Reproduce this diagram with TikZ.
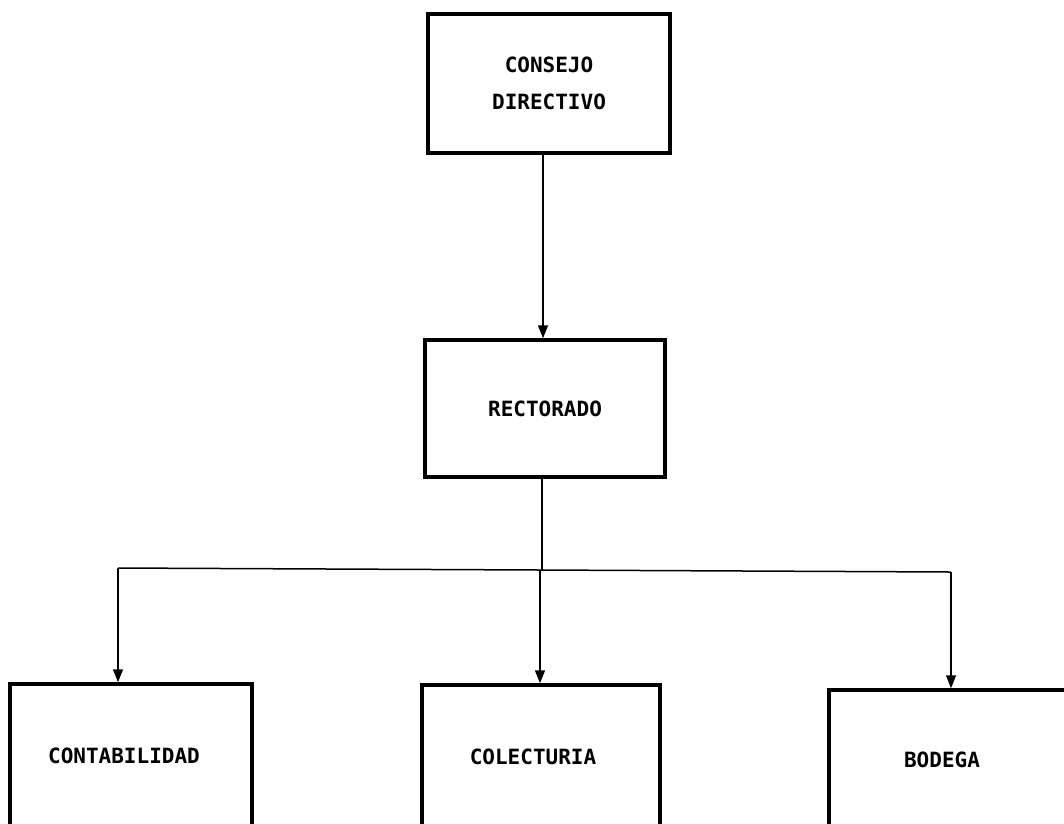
\documentclass[tikz,border=0pt]{standalone}
\usepackage{fontspec}
\newfontfamily\boxfont{DejaVu Sans Mono}
\usetikzlibrary{arrows.meta}
\tikzset{
  unitbox/.style={draw=black, line width=3.5pt, rectangle, inner sep=0pt,
    font=\boxfont\bfseries\fontsize{21}{37}\selectfont, align=center},
  conn/.style={draw=black, line width=1.5pt},
  arr/.style={conn, -{Triangle[length=13pt,width=10pt]}}
}
\begin{document}
\begin{tikzpicture}[x=1pt,y=-1pt]
\useasboundingbox (0,0) rectangle (1064,823);
\clip (0,0) rectangle (1064,823);
\fill[white] (0,0) rectangle (1064,823);
\node[unitbox, minimum width=242pt, minimum height=139pt] (cd) at (549,83.5) {CONSEJO\\DIRECTIVO};
\node[unitbox, minimum width=240pt, minimum height=137pt] (rec) at (545,408.5) {RECTORADO};
\node[unitbox, minimum width=242pt, minimum height=150pt] (cont) at (131,759) {\raisebox{6pt}{\hspace*{-14pt}CONTABILIDAD}};
\node[unitbox, minimum width=238pt, minimum height=150pt] (col) at (541,760) {\raisebox{6pt}{\hspace*{-16pt}COLECTURIA}};
\node[unitbox, minimum width=240pt, minimum height=150pt] (bod) at (949,765) {\raisebox{10pt}{\hspace*{-14pt}BODEGA}};
\coordinate (a) at (543,0);
\coordinate (j) at (542,570);
\coordinate (l) at (118,568);
\coordinate (m) at (540,570);
\coordinate (r) at (951,572);
\draw[arr] (cd.south -| a) -- (rec.north -| a);
\draw[conn] (rec.south -| j) -- (j);
\draw[conn] (l) -- (m) -- (r);
\draw[arr] (l) -- (l |- cont.north);
\draw[arr] (m) -- (m |- col.north);
\draw[arr] (r) -- (r |- bod.north);
\end{tikzpicture}
\end{document}
